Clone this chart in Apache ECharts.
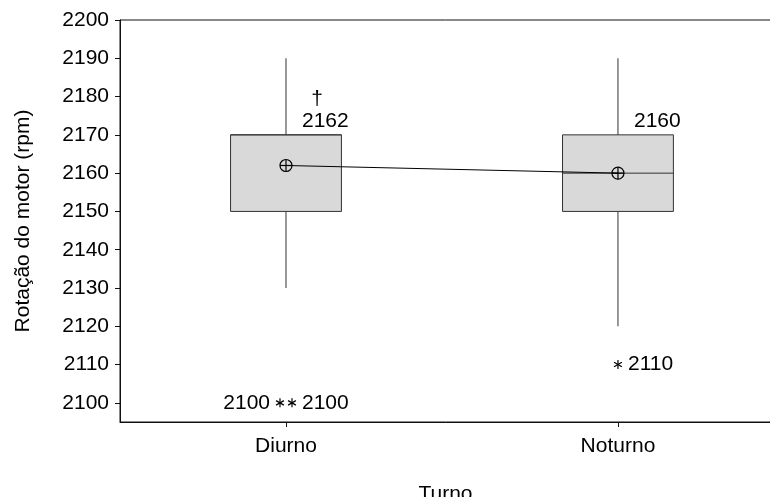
<!DOCTYPE html>
<html><head><meta charset="utf-8">
<script src="https://cdn.jsdelivr.net/npm/echarts@6/dist/echarts.min.js"></script>
<style>html,body{margin:0;padding:0;background:#fff}#chart{width:770px;height:497px}</style>
</head><body><div id="chart"></div>
<script>
// Engine speed by shift: boxplot with means, mean-connect line and outliers
const categories = ['Diurno', 'Noturno'];
const positions = [1, 2];
const whiskerLow = [2130, 2120];
const q1 = [2150, 2150];
const median = [2170, 2160];
const q3 = [2170, 2170];
const whiskerHigh = [2190, 2190];
const means = [2162, 2160];
const meanNotes = ['\u2020', ''];
const outlierPos = [1, 1, 2];
const outlierValues = [2100, 2100, 2110];
const yTicks = [2100, 2110, 2120, 2130, 2140, 2150, 2160, 2170, 2180, 2190, 2200];

const FONT = 'Liberation Sans';
const FS = 21;
const BOX_HALF = 0.167; // half box width in axis units

const boxData = positions.map((p, i) => [p, whiskerLow[i], q1[i], median[i], q3[i], whiskerHigh[i], means[i]]);

// Tied outliers are spread sideways so each one stays visible
const outlierData = outlierPos.map((p, i) => {
  const same = outlierPos.map((q, j) => j).filter(j => outlierPos[j] === p && outlierValues[j] === outlierValues[i]);
  const rank = same.indexOf(i);
  const side = same.length > 1 ? (rank === 0 ? -1 : 1) : 0;
  return [p, outlierValues[i], side];
});

function asterisk(cx, cy, r) {
  const parts = [];
  for (let k = 0; k < 3; k++) {
    const a = Math.PI / 2 + k * Math.PI / 3;
    parts.push({
      type: 'line',
      shape: { x1: cx - r * Math.cos(a), y1: cy - r * Math.sin(a), x2: cx + r * Math.cos(a), y2: cy + r * Math.sin(a) },
      style: { stroke: '#000', lineWidth: 1.2 }
    });
  }
  return parts;
}

const chart = echarts.init(document.getElementById('chart'), null, { renderer: 'canvas' });
chart.setOption({
  animation: false,
  backgroundColor: '#fff',
  grid: { left: 120, top: 20, width: 651, height: 402, outerBoundsMode: 'none', containLabel: false,
    show: true, borderColor: '#111', borderWidth: 1, backgroundColor: 'transparent' },
  xAxis: {
    type: 'value', min: 0.5, max: 2.461,
    name: 'Turno', nameLocation: 'middle', nameGap: 62,
    nameTextStyle: { fontFamily: FONT, fontSize: FS, color: '#000' },
    axisLine: { show: true, onZero: false, lineStyle: { color: '#111', width: 1 } },
    axisTick: { show: true, length: 5, customValues: positions, lineStyle: { color: '#111' } },
    axisLabel: { customValues: positions, margin: 14, fontFamily: FONT, fontSize: FS, color: '#000',
      formatter: v => categories[positions.indexOf(Math.round(v))] },
    splitLine: { show: false }
  },
  yAxis: {
    type: 'value', min: 2095, max: 2200,
    name: 'Rotação do motor (rpm)', nameLocation: 'middle', nameGap: 86,
    nameTextStyle: { fontFamily: FONT, fontSize: FS, color: '#000' },
    axisLine: { show: true, onZero: false, lineStyle: { color: '#111', width: 1 } },
    axisTick: { show: true, length: 5, customValues: yTicks, lineStyle: { color: '#111' } },
    axisLabel: { customValues: yTicks, margin: 11, fontFamily: FONT, fontSize: FS, color: '#000',
      formatter: v => String(v) },
    splitLine: { show: false }
  },
  series: [
    {
      type: 'custom', z: 2,
      data: boxData,
      renderItem: (params, api) => {
        const x = api.value(0);
        const pLo = api.coord([x, api.value(1)]);
        const pQ1 = api.coord([x, api.value(2)]);
        const pMed = api.coord([x, api.value(3)]);
        const pQ3 = api.coord([x, api.value(4)]);
        const pHi = api.coord([x, api.value(5)]);
        const left = api.coord([x - BOX_HALF, 0])[0];
        const right = api.coord([x + BOX_HALF, 0])[0];
        const stroke = { stroke: '#333', lineWidth: 1 };
        return {
          type: 'group',
          children: [
            { type: 'line', shape: { x1: pHi[0], y1: pHi[1], x2: pQ3[0], y2: pQ3[1] }, style: stroke },
            { type: 'line', shape: { x1: pQ1[0], y1: pQ1[1], x2: pLo[0], y2: pLo[1] }, style: stroke },
            { type: 'rect', shape: { x: left, y: pQ3[1], width: right - left, height: pQ1[1] - pQ3[1] },
              style: { fill: '#d9d9d9', stroke: '#333', lineWidth: 1 } },
            { type: 'line', shape: { x1: left, y1: pMed[1], x2: right, y2: pMed[1] }, style: stroke }
          ]
        };
      }
    },
    {
      type: 'line', z: 3,
      data: positions.map((p, i) => [p, means[i]]),
      symbol: 'none',
      lineStyle: { color: '#000', width: 1 }
    },
    {
      type: 'custom', z: 4,
      data: boxData,
      renderItem: (params, api) => {
        const i = params.dataIndex;
        const x = api.value(0);
        const pM = api.coord([x, api.value(6)]);
        const pQ3 = api.coord([x, api.value(4)]);
        const r = 6;
        const children = [
          { type: 'circle', shape: { cx: pM[0], cy: pM[1], r: r }, style: { fill: 'none', stroke: '#000', lineWidth: 1.2 } },
          { type: 'line', shape: { x1: pM[0] - r, y1: pM[1], x2: pM[0] + r, y2: pM[1] }, style: { stroke: '#000', lineWidth: 1.2 } },
          { type: 'line', shape: { x1: pM[0], y1: pM[1] - r, x2: pM[0], y2: pM[1] + r }, style: { stroke: '#000', lineWidth: 1.2 } },
          { type: 'text', x: pM[0] + 16, y: pQ3[1] - 3,
            style: { text: String(means[i]), fill: '#000', font: FS + 'px "' + FONT + '"', textAlign: 'left', textVerticalAlign: 'bottom' } }
        ];
        if (meanNotes[i]) {
          children.push({ type: 'text', x: pM[0] + 31, y: pQ3[1] - 36,
            style: { text: meanNotes[i], fill: '#000', font: FS + 'px "' + FONT + '"', textAlign: 'center', textVerticalAlign: 'middle' } });
        }
        return { type: 'group', children: children };
      }
    },
    {
      type: 'custom', z: 4,
      data: outlierData,
      renderItem: (params, api) => {
        const p = api.coord([api.value(0), api.value(1)]);
        const side = api.value(2);
        const cx = p[0] + side * 6;
        const onLeft = side < 0;
        const children = asterisk(cx, p[1], 4.5);
        children.push({ type: 'text', x: onLeft ? cx - 10 : cx + 10, y: p[1],
          style: { text: String(api.value(1)), fill: '#000', font: FS + 'px "' + FONT + '"',
            textAlign: onLeft ? 'right' : 'left', textVerticalAlign: 'middle' } });
        return { type: 'group', children: children };
      }
    }
  ]
});
</script>
</body></html>
